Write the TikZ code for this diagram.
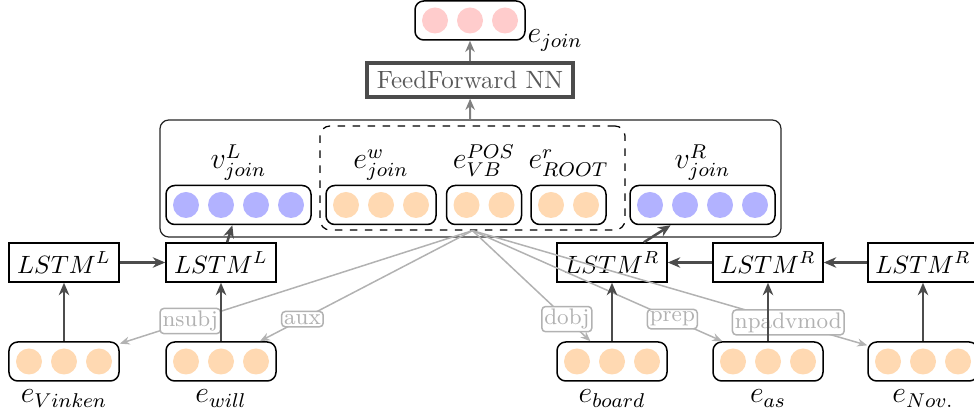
\documentclass[tikz,border=0pt]{standalone}
\usetikzlibrary{arrows.meta}

\definecolor{wordfill}{rgb}{1,0.85,0.7}
\definecolor{ctxfill}{rgb}{0.7,0.7,1}
\definecolor{outfill}{rgb}{1,0.8,0.8}

\tikzset{
  vecbox/.style={draw, rounded corners=3.5pt, minimum height=15.6pt, inner sep=0pt, line width=0.6pt},
  lstmbox/.style={draw, minimum width=44pt, minimum height=15.6pt, inner sep=0pt, line width=0.6pt},
  flow/.style={line width=1pt, black!70, -{Stealth[length=5pt,width=4.2pt]}},
  upflow/.style={line width=0.8pt, black!50, -{Stealth[length=4.5pt,width=3.8pt]}},
  dep/.style={line width=0.6pt, black!30, -{Stealth[length=4pt,width=3.2pt]}},
  deplabel/.style={draw=black!30, text=black!30, fill=white, rounded corners=1.5pt,
    inner sep=1pt, font=\small, line width=0.6pt},
  vlabel/.style={font=\large, inner sep=0pt, anchor=base},
}

% an embedding vector: rounded box holding #3 coloured dots
\newcommand{\embvec}[4]{%
  \node[vecbox, minimum width={14pt*#3+2pt}] (#1) at #2 {};
  \foreach \k in {1,...,#3}
    \fill[#4] (#1.center) ++({(\k-(#3+1)/2)*14pt},0pt) circle[radius=5.2pt];
}

\begin{document}
\begin{tikzpicture}[x=0.4pt, y=-0.4pt]
\clip (0,0) rectangle (974,418);

% output embedding and feed-forward layer
\embvec{ejoin}{(470,20.5)}{3}{outfill}
\node[vlabel, anchor=base west] (ejoinlbl) at (527,43) {$e_{join}$};
\node[draw=black!70, line width=1.3pt, text=black!65, minimum width=82.4pt,
  minimum height=13.6pt, inner sep=0pt] (ffnn) at (470,80) {FeedForward NN};

% joint representation
\node[draw=black!85, rounded corners=3.5pt, minimum width=248.4pt, minimum height=46.8pt,
  inner sep=0pt, line width=0.5pt] (joint) at (470.5,178.5) {};
\node[draw, dashed, rounded corners=4pt, minimum width=122pt, minimum height=41.6pt,
  inner sep=0pt, line width=0.5pt] (deps) at (472.5,178) {};

\embvec{vL}{(238.5,205)}{4}{ctxfill}
\embvec{ew}{(381,205)}{3}{wordfill}
\embvec{epos}{(484,205)}{2}{wordfill}
\embvec{eroot}{(568.5,205)}{2}{wordfill}
\embvec{vR}{(702.5,205)}{4}{ctxfill}

\node[vlabel] (vLlbl) at (238.5,169) {$v^{L}_{join}$};
\node[vlabel] (ewlbl) at (381,169) {$e^{w}_{join}$};
\node[vlabel] (eposlbl) at (484,169) {$e^{POS}_{VB}$};
\node[vlabel] (erootlbl) at (568.5,169) {$e^{r}_{ROOT}$};
\node[vlabel] (vRlbl) at (702.5,169) {$v^{R}_{join}$};

% LSTM cells
\node[lstmbox] (lL1) at (64,262.5) {$LSTM^{L}$};
\node[lstmbox] (lL2) at (221,262.5) {$LSTM^{L}$};
\node[lstmbox] (lR1) at (612,262.5) {$LSTM^{R}$};
\node[lstmbox] (lR2) at (768,262.5) {$LSTM^{R}$};
\node[lstmbox] (lR3) at (923,262.5) {$LSTM^{R}$};

% word embeddings
\embvec{wVinken}{(64,361.5)}{3}{wordfill}
\embvec{wwill}{(221,361.5)}{3}{wordfill}
\embvec{wboard}{(612,361.5)}{3}{wordfill}
\embvec{was}{(768,361.5)}{3}{wordfill}
\embvec{wNov}{(923,361.5)}{3}{wordfill}

\node[vlabel] (tVinken) at (64,403) {$e_{Vinken}$};
\node[vlabel] (twill) at (221,403) {$e_{will}$};
\node[vlabel] (tboard) at (612,403) {$e_{board}$};
\node[vlabel] (tas) at (768,403) {$e_{as}$};
\node[vlabel] (tNov) at (923,403) {$e_{Nov.}$};

% dependency arcs from the head word
\draw[dep] (deps.south) -- node[deplabel, pos=0.8] (dnsubj) {nsubj} (wVinken);
\draw[dep] (deps.south) -- node[deplabel, pos=0.8] (daux) {aux} (wwill);
\draw[dep] (deps.south) -- node[deplabel, pos=0.8] (ddobj) {dobj} (wboard);
\draw[dep] (deps.south) -- node[deplabel, pos=0.8] (dprep) {prep} (was);
\draw[dep] (deps.south) -- node[deplabel, pos=0.8] (dnpadv) {npadvmod} (wNov);

% recurrent flow
\draw[flow] (wVinken) -- (lL1);
\draw[flow] (wwill) -- (lL2);
\draw[flow] (wboard) -- (lR1);
\draw[flow] (was) -- (lR2);
\draw[flow] (wNov) -- (lR3);
\draw[flow] (lL1) -- (lL2);
\draw[flow] (lR3) -- (lR2);
\draw[flow] (lR2) -- (lR1);
\draw[flow] (lL2) -- (vL);
\draw[flow] (lR1) -- (vR);

% up to the output
\draw[upflow] (joint) -- (ffnn);
\draw[upflow] (ffnn) -- (ejoin);
\end{tikzpicture}
\end{document}
